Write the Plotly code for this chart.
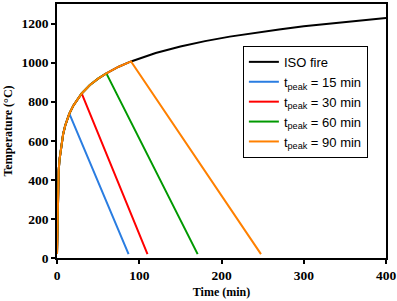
import plotly.graph_objects as go

# ISO fire curve (time in min, temperature in °C)
iso_t = [0, 1, 2, 3, 5, 7.5, 10, 15, 20, 25, 30, 40, 50, 60, 75, 90,
         120, 150, 180, 210, 240, 270, 300, 330, 360, 400]
iso_T = [20, 349, 445, 502, 576, 635, 678, 739, 781, 815, 842, 885, 918, 945, 979, 1006,
         1049, 1082, 1110, 1133, 1153, 1170, 1186, 1200, 1213, 1229]

# Parametric curves: heating along ISO until t_peak, then linear cooling
peak_times = [15, 30, 60, 90]
end_times = [87, 110, 171, 248]
end_temp = [20, 20, 20, 20]
names = ["t<sub>peak</sub> = 15 min", "t<sub>peak</sub> = 30 min",
         "t<sub>peak</sub> = 60 min", "t<sub>peak</sub> = 90 min"]
colors = ["#2a7de1", "#ff0000", "#009900", "#ff8000"]

x_ticks = [0, 100, 200, 300, 400]
y_ticks = [0, 200, 400, 600, 800, 1000, 1200]

fig = go.Figure()
fig.add_trace(go.Scatter(x=iso_t, y=iso_T, mode="lines", name="ISO fire",
                         line=dict(color="black", width=2)))
for tp, te, Te, nm, c in zip(peak_times, end_times, end_temp, names, colors):
    k = iso_t.index(tp) + 1
    xs = iso_t[:k] + [te]
    ys = iso_T[:k] + [Te]
    fig.add_trace(go.Scatter(x=xs, y=ys, mode="lines", name=nm,
                             line=dict(color=c, width=2)))

serif = "Liberation Serif"
axis_font = dict(family=serif, size=13.5, color="black")
title_font = dict(family=serif, size=12, color="black")

fig.update_layout(
    width=397, height=301,
    margin=dict(l=57, r=11, t=4, b=43, autoexpand=False),
    paper_bgcolor="white", plot_bgcolor="white",
    font=dict(family=serif, color="black"),
    showlegend=True,
    legend=dict(x=0.565, y=0.835, xanchor="left", yanchor="top",
                bordercolor="black", borderwidth=1, bgcolor="white",
                font=dict(family="Liberation Sans", size=13, color="black"),
                tracegroupgap=0, itemwidth=30),
    xaxis=dict(range=[0, 400], showgrid=False, zeroline=False,
               tickmode="array", tickvals=x_ticks,
               ticktext=["<b>%d</b>" % v for v in x_ticks],
               showline=True, mirror=True, linecolor="black", linewidth=1.5,
               ticks="outside", ticklen=4, tickwidth=1.5, tickcolor="black",
               tickfont=axis_font,
               title=dict(text="<b>Time (min)</b>", font=title_font, standoff=6)),
    yaxis=dict(range=[0, 1300], showgrid=False, zeroline=False,
               tickmode="array", tickvals=y_ticks,
               ticktext=["<b>%d</b>" % v for v in y_ticks],
               showline=True, mirror=True, linecolor="black", linewidth=1.5,
               ticks="outside", ticklen=4, tickwidth=1.5, tickcolor="black",
               tickfont=axis_font,
               title=dict(text="<b>Temperature (°C)</b>", font=title_font, standoff=6)),
)

fig.write_html("out.html", config={"displayModeBar": False},
               post_script="document.body.style.margin='0';document.body.style.overflow='hidden';")
